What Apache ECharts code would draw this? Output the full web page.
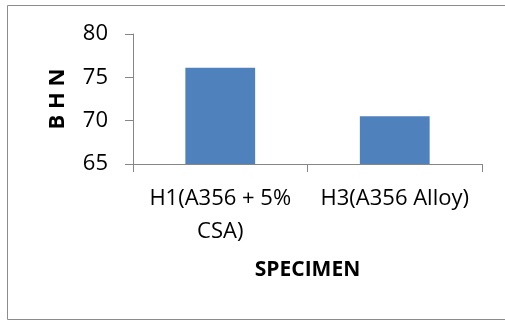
<!DOCTYPE html>
<html>
<head>
<meta charset="utf-8">
<script src="https://cdn.jsdelivr.net/npm/echarts@6/dist/echarts.min.js"></script>
<style>
html,body{margin:0;padding:0;background:#fff;}
#c{width:505px;height:322px;}
</style>
</head>
<body>
<div id="c"></div>
<script>
// Brinell hardness per specimen
const categories = ['H1(A356 + 5%\nCSA)', 'H3(A356 Alloy)'];
const bhnValues = [76.1, 70.5];
const yTicks = [65, 70, 75, 80];

const chart = echarts.init(document.getElementById('c'), null, {renderer: 'canvas'});
const font = 'Open Sans, Liberation Sans, sans-serif';
chart.setOption({
  animation: false,
  graphic: [{
    type: 'rect',
    shape: {x: 7.5, y: 5.5, width: 520, height: 314},
    style: {fill: 'none', stroke: '#8c8c8c', lineWidth: 1}
  }],
  grid: {left: 133, right: 23, top: 34, bottom: 158},
  xAxis: {
    type: 'category',
    data: categories,
    name: 'SPECIMEN',
    nameLocation: 'middle',
    nameGap: 96,
    nameTextStyle: {fontFamily: font, fontWeight: 'bold', fontSize: 21, color: '#000'},
    axisLine: {lineStyle: {color: '#868686'}},
    axisTick: {show: true, length: 8, lineStyle: {color: '#868686'}},
    axisLabel: {fontFamily: font, fontSize: 22, color: '#000', margin: 18, lineHeight: 33, interval: 0}
  },
  yAxis: {
    type: 'value',
    min: yTicks[0],
    max: yTicks[yTicks.length - 1],
    interval: 5,
    name: 'B H N',
    nameLocation: 'middle',
    nameGap: 64,
    nameRotate: 90,
    nameTextStyle: {fontFamily: font, fontWeight: 'bold', fontSize: 22, color: '#000'},
    splitLine: {show: false},
    axisLine: {show: true, lineStyle: {color: '#868686'}},
    axisTick: {show: true, length: 8, lineStyle: {color: '#868686'}},
    axisLabel: {fontFamily: font, fontSize: 22, color: '#000', margin: 25}
  },
  series: [{
    type: 'bar',
    data: bhnValues,
    barWidth: '40%',
    itemStyle: {color: '#4f81bd'}
  }]
});
</script>
</body>
</html>
